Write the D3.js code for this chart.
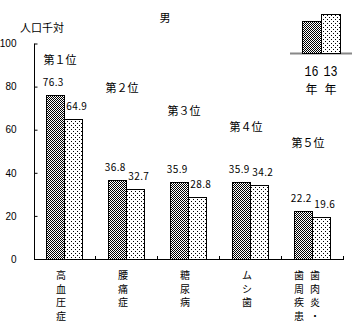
<!DOCTYPE html>
<html>
<head>
<meta charset="utf-8">
<script src="https://cdn.jsdelivr.net/npm/d3@7"></script>
<style>
  html, body { margin: 0; padding: 0; background: #fff; }
  svg { display: block; }
  text { fill: #000; }
</style>
</head>
<body>
<svg id="chart" width="358" height="323"></svg>
<script>
// Leading complaints among men, per 1,000 population
const categories = ["高血圧症", "腰痛症", "糖尿病", "ムシ歯", "歯周疾患・歯肉炎"];
// each category label is written vertically; long labels wrap into columns
const categoryColumns = [["高血圧症"], ["腰痛症"], ["糖尿病"], ["ムシ歯"], ["歯周疾患", "歯肉炎・"]];
const ranks = ["第１位", "第２位", "第３位", "第４位", "第５位"];
const series = ["16年", "13年"];
const values16 = [76.3, 36.8, 35.9, 35.9, 22.2];
const values13 = [64.9, 32.7, 28.8, 34.2, 19.6];
const yTicks = [0, 20, 40, 60, 80, 100];
const legendNumbers = ["16", "13"];
const legendUnits = ["年", "年"];

const svg = d3.select("#chart");
const jp = "'Noto Sans CJK JP', sans-serif";

// patterns: fine checkerboard for 16年, sparse dots for 13年
const defs = svg.append("defs");
const check = defs.append("pattern").attr("id", "pat16")
  .attr("patternUnits", "userSpaceOnUse").attr("width", 2).attr("height", 2);
check.append("rect").attr("width", 2).attr("height", 2).attr("fill", "#fff");
check.append("rect").attr("x", 0).attr("y", 0).attr("width", 1).attr("height", 1).attr("fill", "#000");
check.append("rect").attr("x", 1).attr("y", 1).attr("width", 1).attr("height", 1).attr("fill", "#000");
const dots = defs.append("pattern").attr("id", "pat13")
  .attr("patternUnits", "userSpaceOnUse").attr("width", 4).attr("height", 4);
dots.append("rect").attr("width", 4).attr("height", 4).attr("fill", "#fff");
dots.append("rect").attr("x", 1).attr("y", 1).attr("width", 1).attr("height", 1).attr("fill", "#000");
dots.append("rect").attr("x", 3).attr("y", 3).attr("width", 1).attr("height", 1).attr("fill", "#000");
const fills = { "16年": "url(#pat16)", "13年": "url(#pat13)" };

const x = d3.scaleBand().domain(categories).range([34, 344]).paddingInner(0).paddingOuter(0);
const xSub = d3.scaleBand().domain(series).range([12, 47]);
const y = d3.scaleLinear().domain([0, 100]).range([259, 43.5]);

const rows = categories.map((c, i) => ({
  cat: c, rank: ranks[i],
  vals: [{ s: "16年", v: values16[i] }, { s: "13年", v: values13[i] }]
}));

// bars
const groups = svg.append("g").selectAll("g").data(rows).join("g")
  .attr("transform", d => `translate(${x(d.cat)},0)`);
groups.selectAll("rect").data(d => d.vals).join("rect")
  .attr("x", d => Math.round(xSub(d.s)) + 0.5)
  .attr("y", d => Math.round(y(d.v)) + 0.5)
  .attr("width", d => Math.round(xSub.bandwidth()))
  .attr("height", d => y(0) - Math.round(y(d.v)))
  .attr("fill", d => fills[d.s])
  .attr("stroke", "#000").attr("stroke-width", 1);

// value labels
groups.selectAll("text.val").data(d => d.vals).join("text").attr("class", "val")
  .attr("x", d => xSub(d.s) + xSub.bandwidth() / 2 + (d.s === "16年" ? -1.5 : 4.5))
  .attr("y", d => y(d.v) - 9)
  .attr("text-anchor", "middle")
  .attr("font-family", jp).attr("font-size", 10).attr("letter-spacing", 0.4)
  .text(d => d.v.toFixed(1));

// rank labels (staircase above each group)
groups.append("text")
  .attr("x", x.bandwidth() / 2 - 5)
  .attr("y", (d, i) => [64, 92, 115, 131, 147][i])
  .attr("text-anchor", "middle")
  .attr("font-family", jp).attr("font-size", 11)
  .text(d => d.rank);

// axes
const yAxis = d3.axisLeft(y).tickValues(yTicks).tickSize(-3).tickPadding(18).tickFormat(d3.format("d"));
const gy = svg.append("g").attr("transform", "translate(34.5,0)").call(yAxis);
gy.select(".domain").attr("d", `M0,${y(100)}V${y(0)}`).attr("stroke", "#000");
gy.selectAll(".tick line").attr("stroke", "#000").attr("x2", 3);
gy.selectAll(".tick text").attr("font-family", "'Liberation Sans', sans-serif")
  .attr("font-size", 10).attr("x", -18).attr("text-anchor", "end");

// baseline and category boundary ticks
svg.append("line").attr("x1", 34).attr("x2", 344).attr("y1", y(0) + 0.5).attr("y2", y(0) + 0.5)
  .attr("stroke", "#000");
svg.append("g").selectAll("line").data(categories).join("line")
  .attr("x1", d => Math.round(x(d) + x.bandwidth()) - 0.5)
  .attr("x2", d => Math.round(x(d) + x.bandwidth()) - 0.5)
  .attr("y1", y(0) + 0.5).attr("y2", y(0) - 3)
  .attr("stroke", "#000");

// vertical category labels
const colGap = 14;
groups.each(function (d, i) {
  const cols = categoryColumns[i];
  const g = d3.select(this);
  const cx = x.bandwidth() / 2 - 4 - (cols.length - 1) * colGap / 2 + (cols.length > 1 ? -3 : 0);
  cols.forEach((col, ci) => {
    Array.from(col).forEach((ch, k) => {
      g.append("text")
        .attr("x", cx + ci * (colGap + (cols.length > 1 ? 2 : 0)))
        .attr("y", 279 + k * 13.5)
        .attr("text-anchor", "middle")
        .attr("font-family", jp).attr("font-size", 10)
        .text(ch);
    });
  });
});

// titles
svg.append("text").attr("x", 165).attr("y", 22).attr("text-anchor", "middle")
  .attr("font-family", jp).attr("font-size", 11).text("男");
svg.append("text").attr("x", 20).attr("y", 32)
  .attr("font-family", jp).attr("font-size", 11).text("人口千対");

// legend
const lx = d3.scaleBand().domain(series).range([302, 340]).paddingInner(0);
const lh = d3.scaleLinear().domain([0, 1]).range([53, 14]);
const legendHeights = { "16年": 0.82, "13年": 1 };
const lg = svg.append("g");
lg.append("line").attr("x1", 290).attr("x2", 352).attr("y1", 53.5).attr("y2", 53.5)
  .attr("stroke", "#888").attr("stroke-width", 2);
lg.selectAll("rect").data(series).join("rect")
  .attr("x", d => Math.round(lx(d)) + 0.5)
  .attr("y", d => Math.round(lh(legendHeights[d])) + 0.5)
  .attr("width", Math.round(lx.bandwidth()))
  .attr("height", d => 53 - Math.round(lh(legendHeights[d])))
  .attr("fill", d => fills[d]).attr("stroke", "#000");
lg.selectAll("text.num").data(series).join("text").attr("class", "num")
  .attr("text-anchor", "middle")
  .attr("font-family", "'Liberation Mono', monospace").attr("font-size", 13)
  .attr("transform", d => `translate(${lx(d) + lx.bandwidth() / 2},76) scale(0.9,1.15)`)
  .text((d, i) => legendNumbers[i]);
lg.selectAll("text.unit").data(series).join("text").attr("class", "unit")
  .attr("x", d => lx(d) + lx.bandwidth() / 2)
  .attr("y", 94)
  .attr("text-anchor", "middle")
  .attr("font-family", jp).attr("font-size", 12)
  .text((d, i) => legendUnits[i]);
</script>
</body>
</html>
